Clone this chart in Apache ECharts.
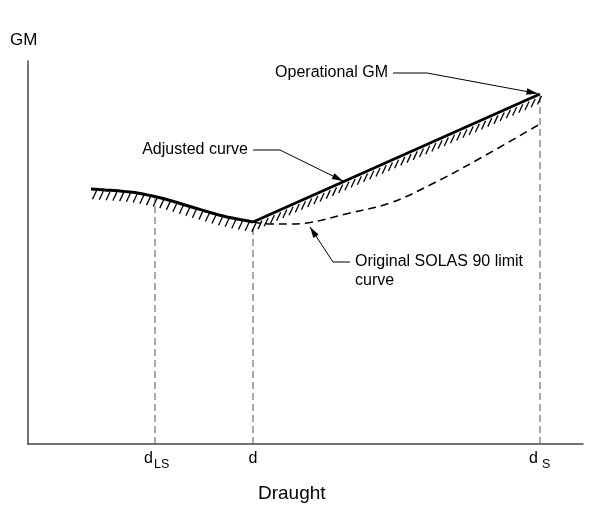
<!DOCTYPE html>
<html><head><meta charset="utf-8">
<script src="https://cdn.jsdelivr.net/npm/echarts@6.0.0/dist/echarts.min.js"></script>
<style>html,body{margin:0;padding:0;background:#fff}#c{width:591px;height:510px}</style>
</head><body><div id="c"></div>
<script>
// ---- data (arbitrary schematic units) ----
const curvedX = [1.26, 1.54, 1.84, 2.14, 2.44, 2.74, 3.04, 3.34, 3.64, 3.94, 4.24, 4.50];
const curvedY = [5.10, 5.08, 5.06, 5.03, 4.97, 4.90, 4.81, 4.72, 4.63, 4.55, 4.49, 4.44];
const straightX = [4.50, 10.24];
const straightY = [4.44, 7.00];
const solasX = [4.50, 4.84, 5.24, 5.64, 6.44, 7.24, 8.04, 8.98, 10.24];
const solasY = [4.44, 4.40, 4.40, 4.43, 4.62, 4.82, 5.18, 5.68, 6.40];
const tickValues = [2.54, 4.50, 10.24];
const tickTops = [4.95, 4.44, 7.00];
const tickMain = ['d', 'd', 'd'];
const tickSub = ['LS', '', 'S'];
const xMax = 11.1, yMax = 7.66;

const zip = (xs, ys) => xs.map((x, i) => [x, ys[i]]);

// annotation leaders (data coords): text anchor, elbow, arrow tip
const annotations = [
  { text: 'Operational GM', pts: [[7.30, 7.42], [7.98, 7.42], [10.19, 7.01]], side: 'left' },
  { text: 'Adjusted curve', pts: [[4.50, 5.88], [5.04, 5.88], [6.30, 5.26]], side: 'left' },
  { text: 'Original SOLAS 90 limit\ncurve', pts: [[6.44, 3.64], [6.10, 3.64], [5.64, 4.34]], side: 'right' }
];

const FONT = '"Liberation Sans", Arial, sans-serif';

function renderExtras(params, api) {
  const ch = [];
  tickValues.forEach((v, i) => {
    const a = api.coord([v, 0]), b = api.coord([v, tickTops[i]]);
    ch.push({ type: 'line', shape: { x1: a[0], y1: a[1], x2: b[0], y2: b[1] + 2 },
      style: { stroke: '#555', lineWidth: 1, lineDash: [7, 4] } });
  });
  const pts = zip(curvedX, curvedY).concat(zip(straightX.slice(1), straightY.slice(1))).map(p => api.coord(p));
  const step = 6.8; let carry = 3;
  for (let i = 0; i < pts.length - 1; i++) {
    const [x0, y0] = pts[i], [x1, y1] = pts[i + 1];
    const len = Math.hypot(x1 - x0, y1 - y0);
    let s = carry;
    while (s <= len) {
      const t = s / len;
      const px = x0 + (x1 - x0) * t, py = y0 + (y1 - y0) * t;
      ch.push({ type: 'line', shape: { x1: px + 2.5, y1: py + 1.5, x2: px - 1.5, y2: py + 10 },
        style: { stroke: '#000', lineWidth: 1.3 } });
      s += step;
    }
    carry = s - len;
  }
  annotations.forEach(an => {
    const p = an.pts.map(q => api.coord(q));
    ch.push({ type: 'polyline', shape: { points: p }, style: { stroke: '#000', lineWidth: 1, fill: null } });
    const [ex, ey] = p[p.length - 2], [tx, ty] = p[p.length - 1];
    const L = Math.hypot(tx - ex, ty - ey), ux = (tx - ex) / L, uy = (ty - ey) / L;
    const al = 11, aw = 3.2;
    const bx = tx - ux * al, by = ty - uy * al;
    ch.push({ type: 'polygon', shape: { points: [[tx, ty], [bx - uy * aw, by + ux * aw], [bx + uy * aw, by - ux * aw]] },
      style: { fill: '#000' } });
    const [sx, sy] = p[0];
    an.text.split('\n').forEach((ln, k) => {
      ch.push({ type: 'text', style: {
        text: ln, x: an.side === 'left' ? sx - 5 : sx + 5, y: sy + k * 19,
        font: '16px ' + FONT, fill: '#000',
        textAlign: an.side === 'left' ? 'right' : 'left', align: an.side === 'left' ? 'right' : 'left',
        textVerticalAlign: 'middle', verticalAlign: 'middle' } });
    });
  });
  tickValues.forEach((v, i) => {
    const a = api.coord([v, 0]);
    if (tickSub[i]) {
      ch.push({ type: 'text', style: { text: tickMain[i], x: a[0] - 11, y: a[1] + 15, font: '16px ' + FONT, fill: '#000',
        textAlign: 'left', align: 'left', textVerticalAlign: 'middle', verticalAlign: 'middle' } });
      ch.push({ type: 'text', style: { text: tickSub[i], x: a[0] + (tickSub[i].length > 1 ? -1 : 2), y: a[1] + 21, font: '12.5px ' + FONT, fill: '#000',
        textAlign: 'left', align: 'left', textVerticalAlign: 'middle', verticalAlign: 'middle' } });
    } else {
      ch.push({ type: 'text', style: { text: tickMain[i], x: a[0], y: a[1] + 15, font: '16px ' + FONT, fill: '#000',
        textAlign: 'center', align: 'center', textVerticalAlign: 'middle', verticalAlign: 'middle' } });
    }
  });
  return { type: 'group', children: ch };
}

const chart = echarts.init(document.getElementById('c'), null, { renderer: 'canvas' });
const axisCommon = {
  type: 'value', min: 0,
  axisLine: { show: true, onZero: false, lineStyle: { color: '#444', width: 1.5 } },
  axisTick: { show: false }, axisLabel: { show: false }, splitLine: { show: false }
};
chart.setOption({
  animation: false,
  backgroundColor: '#fff',
  grid: { left: 28, right: 8, top: 61, bottom: 66 },
  xAxis: Object.assign({}, axisCommon, { max: xMax }),
  yAxis: Object.assign({}, axisCommon, { max: yMax }),
  graphic: [
    { type: 'text', left: 10, top: 32, style: { text: 'GM', font: '17px ' + FONT, fill: '#000' } },
    { type: 'text', left: 258, top: 484, style: { text: 'Draught', font: '19px ' + FONT, fill: '#000' } }
  ],
  series: [
    { type: 'line', data: zip(solasX, solasY), smooth: 0.4, symbol: 'none',
      lineStyle: { color: '#000', width: 1.6, type: [8, 5] } },
    { type: 'line', data: zip(curvedX, curvedY), smooth: 0.3, symbol: 'none',
      lineStyle: { color: '#000', width: 3 } },
    { type: 'line', data: zip(straightX, straightY), symbol: 'none',
      lineStyle: { color: '#000', width: 3 } },
    { type: 'custom', data: [[0, 0]], renderItem: renderExtras, clip: false, silent: true, z: 5 }
  ]
});
</script></body></html>
